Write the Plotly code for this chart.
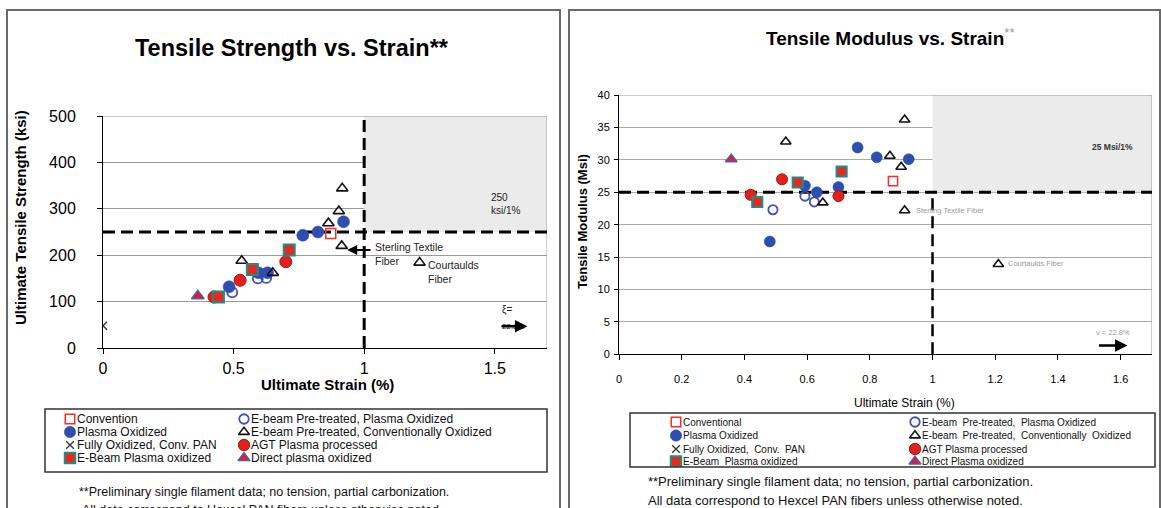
import plotly.graph_objects as go

W, H = 1161, 508
FONT = "Liberation Sans"

# ---------------- Tensile strength panel (ksi vs. % strain) ----------------
conv_strain_ts = [0.872]
conv_ts = [247]
ebpo_strain_ts = [0.495, 0.593, 0.625]
ebpo_ts = [120, 150, 151]
plasma_strain_ts = [0.483, 0.595, 0.630, 0.765, 0.823, 0.921]
plasma_ts = [132, 162, 162, 243, 250, 272]
ebconv_strain_ts = [0.531, 0.650, 0.863, 0.903, 0.916]
ebconv_ts = [188, 162, 269, 295, 344]
fully_strain_ts = [0.0]
fully_ts = [48]
agt_strain_ts = [0.425, 0.525, 0.700]
agt_ts = [110, 146, 186]
ebplasma_strain_ts = [0.442, 0.572, 0.713]
ebplasma_ts = [110, 169, 211]
direct_strain_ts = [0.363]
direct_ts = [112]
# commercial reference fibers: Sterling textile, Courtaulds
other_strain_ts = [0.914, 1.212]
other_ts = [220, 184]

# ---------------- Tensile modulus panel (Msi vs. % strain) ----------------
conv_strain_mod = [0.874]
conv_mod = [26.7]
ebpo_strain_mod = [0.491, 0.593, 0.623]
ebpo_mod = [22.3, 24.4, 23.5]
plasma_strain_mod = [0.481, 0.593, 0.631, 0.700, 0.761, 0.822, 0.924]
plasma_mod = [17.4, 26.0, 25.0, 25.8, 31.9, 30.4, 30.1]
ebconv_strain_mod = [0.532, 0.650, 0.864, 0.900, 0.911]
ebconv_mod = [32.8, 23.4, 30.6, 28.9, 36.2]
fully_strain_mod = []
fully_mod = []
agt_strain_mod = [0.420, 0.520, 0.700]
agt_mod = [24.6, 27.0, 24.4]
ebplasma_strain_mod = [0.441, 0.570, 0.710]
ebplasma_mod = [23.5, 26.5, 28.2]
direct_strain_mod = [0.358]
direct_mod = [30.1]
other_strain_mod = [0.911, 1.210]
other_mod = [22.2, 13.9]

# targets
strength_target = 250
modulus_target = 25
strain_target = 1.0
strain_max = 1.7
strength_max = 500
modulus_max = 40

# axis ticks
strength_ticks = [0, 100, 200, 300, 400, 500]
modulus_ticks = [0, 5, 10, 15, 20, 25, 30, 35, 40]
strain_ticks_ts = [0, 0.5, 1, 1.5]
strain_labels_ts = ["0", "0.5", "1", "1.5"]
strain_ticks_mod = [0, 0.2, 0.4, 0.6, 0.8, 1.0, 1.2, 1.4, 1.6]
strain_labels_mod = ["0", "0.2", "0.4", "0.6", "0.8", "1", "1.2", "1.4", "1.6"]

# legend labels (two columns, four rows each)
series_keys = ["conv", "plasma", "fully", "ebplasma", "ebpo", "ebconv", "agt", "direct"]
legend_names_ts = ["Convention", "Plasma Oxidized", "Fully Oxidized, Conv. PAN",
                   "E-Beam Plasma oxidized", "E-beam Pre-treated, Plasma Oxidized",
                   "E-beam Pre-treated, Conventionally Oxidized",
                   "AGT Plasma processed", "Direct plasma oxidized"]
legend_names_mod = ["Conventional", "Plasma Oxidized", "Fully Oxidized,  Conv.  PAN",
                    "E-Beam  Plasma oxidized", "E-beam  Pre-treated,  Plasma Oxidized",
                    "E-beam  Pre-treated,  Conventionally  Oxidized",
                    "AGT Plasma processed", "Direct Plasma oxidized"]


def marker_style(key, scale=1.0):
    s = {
        "conv": dict(symbol="square-open", size=10, color="#ff2a2a",
                     line=dict(width=1.5, color="#ff2a2a")),
        "ebpo": dict(symbol="circle-open", size=10, color="#4152b4",
                     line=dict(width=1.8, color="#4152b4")),
        "plasma": dict(symbol="circle", size=12, color="#2f4fb0",
                       line=dict(width=0.5, color="#27439a")),
        "ebconv": dict(symbol="triangle-up-open", size=10, color="#111111",
                       line=dict(width=1.6, color="#111111")),
        "fully": dict(symbol="x-thin-open", size=8, color="#333333",
                      line=dict(width=1.3, color="#333333")),
        "agt": dict(symbol="circle", size=12, color="#e3201b",
                    line=dict(width=1, color="#a81410")),
        "ebplasma": dict(symbol="square", size=11, color="#e8281e",
                         line=dict(width=2, color="#1e8c88")),
        "direct": dict(symbol="triangle-up", size=11, color="#e3201b",
                       line=dict(width=1.5, color="#4a5cc0")),
    }[key]
    s = dict(s)
    s["size"] = s["size"] * scale
    return s


data_ts = {
    "conv": (conv_strain_ts, conv_ts),
    "ebpo": (ebpo_strain_ts, ebpo_ts),
    "plasma": (plasma_strain_ts, plasma_ts),
    "ebconv": (ebconv_strain_ts, ebconv_ts),
    "fully": (fully_strain_ts, fully_ts),
    "agt": (agt_strain_ts, agt_ts),
    "ebplasma": (ebplasma_strain_ts, ebplasma_ts),
    "direct": (direct_strain_ts, direct_ts),
}
data_mod = {
    "conv": (conv_strain_mod, conv_mod),
    "ebpo": (ebpo_strain_mod, ebpo_mod),
    "plasma": (plasma_strain_mod, plasma_mod),
    "ebconv": (ebconv_strain_mod, ebconv_mod),
    "fully": (fully_strain_mod, fully_mod),
    "agt": (agt_strain_mod, agt_mod),
    "ebplasma": (ebplasma_strain_mod, ebplasma_mod),
    "direct": (direct_strain_mod, direct_mod),
}
draw_order = ["conv", "ebpo", "plasma", "ebconv", "fully", "agt", "ebplasma", "direct"]


def px(x):
    return x / W


def py(y):
    return 1 - y / H


fig = go.Figure()

# data traces
for key in draw_order:
    xs, ys = data_ts[key]
    fig.add_trace(go.Scatter(x=xs, y=ys, mode="markers", marker=marker_style(key),
                             xaxis="x", yaxis="y", showlegend=False, hoverinfo="x+y"))
fig.add_trace(go.Scatter(x=other_strain_ts, y=other_ts, mode="markers",
                         marker=marker_style("ebconv"), xaxis="x", yaxis="y",
                         showlegend=False))
for key in draw_order:
    xs, ys = data_mod[key]
    fig.add_trace(go.Scatter(x=xs, y=ys, mode="markers", marker=marker_style(key, 0.92),
                             xaxis="x2", yaxis="y2", showlegend=False, hoverinfo="x+y"))
fig.add_trace(go.Scatter(x=other_strain_mod, y=other_mod, mode="markers",
                         marker=marker_style("ebconv", 0.92), xaxis="x2", yaxis="y2",
                         showlegend=False))

# legend swatches drawn on their own pixel-scaled axes
legend_ts_box = (45, 547, 409, 472)
legend_mod_box = (630, 1155, 413, 467)
legend_ts_cols = (70, 244)
legend_mod_cols = (676, 915)
legend_ts_rows = [419, 432, 445, 458]
legend_mod_rows = [422, 435.5, 449, 461.5]

annotations = []
for (box, cols, rows, names, xa, ya, scale, fsize) in [
    (legend_ts_box, legend_ts_cols, legend_ts_rows, legend_names_ts, "x3", "y3", 0.95, 12),
    (legend_mod_box, legend_mod_cols, legend_mod_rows, legend_names_mod, "x4", "y4", 0.95, 10),
]:
    for i, key in enumerate(series_keys):
        cx = cols[i // 4]
        cy = rows[i % 4]
        fig.add_trace(go.Scatter(x=[cx], y=[cy], mode="markers",
                                 marker=marker_style(key, scale), xaxis=xa, yaxis=ya,
                                 showlegend=False, hoverinfo="skip"))
        annotations.append(dict(x=cx + 5, y=cy, xref=xa, yref=ya, text=names[i],
                                showarrow=False, xanchor="left", yanchor="middle",
                                font=dict(family=FONT, size=fsize, color="#111")))

axis_common = dict(showline=True, linecolor="black", linewidth=1, ticks="outside",
                   tickcolor="black", ticklen=5, zeroline=False, automargin=False)

fig.update_layout(
    width=W, height=H, margin=dict(l=0, r=0, t=0, b=0, autoexpand=False),
    paper_bgcolor="white", plot_bgcolor="white", showlegend=False,
    xaxis=dict(domain=[px(103), px(547)], range=[0, strain_max], tickvals=strain_ticks_ts,
               ticktext=strain_labels_ts, showgrid=False, anchor="y", ticklabelstandoff=1,
               tickfont=dict(family=FONT, size=16, color="black"), **axis_common),
    yaxis=dict(domain=[py(348), py(116)], range=[0, strength_max], tickvals=strength_ticks,
               showgrid=True, gridcolor="#9a9a9a", gridwidth=1, anchor="x",
               ticklabelstandoff=18,
               tickfont=dict(family=FONT, size=16, color="black"), **axis_common),
    xaxis2=dict(domain=[px(619), px(1152)], range=[0, strain_max], tickvals=strain_ticks_mod,
                ticktext=strain_labels_mod, showgrid=False, anchor="y2", ticklabelstandoff=9,
                tickfont=dict(family=FONT, size=11, color="black"), **axis_common),
    yaxis2=dict(domain=[py(354.3), py(95)], range=[0, modulus_max], tickvals=modulus_ticks,
                showgrid=True, gridcolor="#aaaaaa", gridwidth=1, anchor="x2",
                ticklabelstandoff=2,
                tickfont=dict(family=FONT, size=11, color="black"),
                **{**axis_common, "ticklen": 4}),
    xaxis3=dict(domain=[px(legend_ts_box[0]), px(legend_ts_box[1])],
                range=[legend_ts_box[0], legend_ts_box[1]], visible=False, anchor="y3"),
    yaxis3=dict(domain=[py(legend_ts_box[3]), py(legend_ts_box[2])],
                range=[legend_ts_box[3], legend_ts_box[2]], visible=False, anchor="x3"),
    xaxis4=dict(domain=[px(legend_mod_box[0]), px(legend_mod_box[1])],
                range=[legend_mod_box[0], legend_mod_box[1]], visible=False, anchor="y4"),
    yaxis4=dict(domain=[py(legend_mod_box[3]), py(legend_mod_box[2])],
                range=[legend_mod_box[3], legend_mod_box[2]], visible=False, anchor="x4"),
)

dash = "12px,6px"
shapes = [
    # panel frames
    dict(type="rect", xref="paper", yref="paper", x0=px(7), x1=px(560), y0=py(520), y1=py(10),
         line=dict(color="#6a6a6a", width=2), layer="below"),
    dict(type="rect", xref="paper", yref="paper", x0=px(569), x1=px(1160), y0=py(520), y1=py(10),
         line=dict(color="#6a6a6a", width=2), layer="below"),
    # target zones
    dict(type="rect", xref="x", yref="y", x0=strain_target, x1=strain_max,
         y0=strength_target, y1=strength_max, fillcolor="#ebebeb", line=dict(width=0),
         layer="between"),
    dict(type="rect", xref="x2", yref="y2", x0=strain_target, x1=strain_max,
         y0=modulus_target, y1=modulus_max, fillcolor="#ebebeb", line=dict(width=0),
         layer="between"),
    # plot-area borders (top / right)
    dict(type="line", xref="x", yref="y", x0=0, x1=strain_max, y0=strength_max,
         y1=strength_max, line=dict(color="#9a9a9a", width=1), layer="between"),
    dict(type="line", xref="x", yref="y", x0=strain_max, x1=strain_max, y0=0,
         y1=strength_max, line=dict(color="#9a9a9a", width=1), layer="between"),
    dict(type="line", xref="x2", yref="y2", x0=0, x1=strain_max, y0=modulus_max,
         y1=modulus_max, line=dict(color="#9a9a9a", width=1), layer="between"),
    dict(type="line", xref="x2", yref="y2", x0=strain_max, x1=strain_max, y0=0,
         y1=modulus_max, line=dict(color="#9a9a9a", width=1), layer="between"),
    # target lines
    dict(type="line", xref="x", yref="y", x0=0, x1=strain_max, y0=strength_target,
         y1=strength_target, line=dict(color="black", width=3, dash=dash), layer="between"),
    dict(type="line", xref="x", yref="y", x0=strain_target, x1=strain_target, y0=0,
         y1=strength_max, line=dict(color="black", width=3, dash=dash), layer="between"),
    dict(type="line", xref="x2", yref="y2", x0=0, x1=strain_max, y0=modulus_target,
         y1=modulus_target, line=dict(color="black", width=3, dash=dash), layer="between"),
    dict(type="line", xref="x2", yref="y2", x0=strain_target, x1=strain_target, y0=0,
         y1=modulus_target, line=dict(color="black", width=2.5, dash=dash), layer="between"),
    # legend boxes
    dict(type="rect", xref="paper", yref="paper", x0=px(legend_ts_box[0]), x1=px(legend_ts_box[1]),
         y0=py(legend_ts_box[3]), y1=py(legend_ts_box[2]), line=dict(color="#333", width=1.5)),
    dict(type="rect", xref="paper", yref="paper", x0=px(legend_mod_box[0]), x1=px(legend_mod_box[1]),
         y0=py(legend_mod_box[3]), y1=py(legend_mod_box[2]), line=dict(color="#333", width=1.5)),
]

c = dict(xanchor="center", yanchor="middle", showarrow=False)
lft = dict(xanchor="left", yanchor="middle", showarrow=False)
annotations += [
    # titles
    dict(x=px(292), y=py(48), xref="paper", yref="paper",
         text="<b>Tensile Strength vs. Strain**</b>",
         font=dict(family=FONT, size=23.5, color="black"), **c),
    dict(x=px(890), y=py(37), xref="paper", yref="paper",
         text="<b>Tensile Modulus vs. Strain</b><sup><span style='color:#999'>**</span></sup>",
         font=dict(family=FONT, size=19, color="black"), **c),
    # axis titles
    dict(x=px(20), y=py(218), xref="paper", yref="paper", textangle=-90,
         text="<b>Ultimate Tensile Strength (ksi)</b>",
         font=dict(family=FONT, size=15, color="black"), **c),
    dict(x=px(327), y=py(384), xref="paper", yref="paper", text="<b>Ultimate Strain (%)</b>",
         font=dict(family=FONT, size=15, color="black"), **c),
    dict(x=px(582), y=py(222), xref="paper", yref="paper", textangle=-90,
         text="<b>Tensile Modulus (Msi)</b>",
         font=dict(family=FONT, size=13, color="black"), **c),
    dict(x=px(904), y=py(403), xref="paper", yref="paper", text="Ultimate Strain (%)",
         font=dict(family=FONT, size=12, color="black"), **c),
    # strength panel notes
    dict(x=1.034, y=203, xref="x", yref="y", align="left",
         text="Sterling Textile<br>Fiber", font=dict(family=FONT, size=10.5, color="#222"), **lft),
    dict(x=0.935, y=211, xref="x", yref="y", ax=1.03, ay=211, axref="x", ayref="y",
         text="", showarrow=True, arrowhead=2, arrowsize=1, arrowwidth=2, arrowcolor="black"),
    dict(x=1.235, y=164, xref="x", yref="y", align="left",
         text="Courtaulds<br>Fiber", font=dict(family=FONT, size=10.5, color="#222"), **lft),
    dict(x=1.479, y=310, xref="x", yref="y", align="left",
         text="250<br>ksi/1%", font=dict(family=FONT, size=10, color="#222"), **lft),
    dict(x=1.52, y=81, xref="x", yref="y", text="ξ=",
         font=dict(family=FONT, size=10, color="#222"), **lft),
    dict(x=1.52, y=47, xref="x", yref="y", text="22.8%",
         font=dict(family=FONT, size=8, color="#222"), **lft),
    dict(x=1.625, y=47, xref="x", yref="y", ax=1.52, ay=47, axref="x", ayref="y",
         text="", showarrow=True, arrowhead=2, arrowsize=1, arrowwidth=2.5, arrowcolor="black"),
    # modulus panel notes
    dict(x=0.942, y=22.2, xref="x2", yref="y2", text="Sterling Textile Fiber",
         font=dict(family=FONT, size=7.5, color="#999"), **lft),
    dict(x=1.234, y=14.0, xref="x2", yref="y2", text="Courtaulds Fiber",
         font=dict(family=FONT, size=7.5, color="#999"), **lft),
    dict(x=1.503, y=32.0, xref="x2", yref="y2", text="<b>25 Msi/1%</b>",
         font=dict(family=FONT, size=8.5, color="#333"), **lft),
    dict(x=1.574, y=3.4, xref="x2", yref="y2", text="v = 22.8%",
         font=dict(family=FONT, size=7.5, color="#999"), **c),
    dict(x=1.622, y=1.35, xref="x2", yref="y2", ax=1.526, ay=1.35, axref="x2", ayref="y2",
         text="", showarrow=True, arrowhead=2, arrowsize=1, arrowwidth=2.5, arrowcolor="black"),
    # footnotes
    dict(x=px(77), y=py(492), xref="paper", yref="paper",
         text="**Preliminary single filament data; no tension, partial carbonization.",
         font=dict(family=FONT, size=12.5, color="#111"), **lft),
    dict(x=px(80), y=py(510), xref="paper", yref="paper",
         text="All data correspond to Hexcel PAN fibers unless otherwise noted.",
         font=dict(family=FONT, size=12.5, color="#111"), **lft),
    dict(x=px(646), y=py(481), xref="paper", yref="paper",
         text="**Preliminary single filament data; no tension, partial carbonization.",
         font=dict(family=FONT, size=13, color="#111"), **lft),
    dict(x=px(646), y=py(500), xref="paper", yref="paper",
         text="All data correspond to Hexcel PAN fibers unless otherwise noted.",
         font=dict(family=FONT, size=13, color="#111"), **lft),
]

fig.update_layout(shapes=shapes, annotations=annotations)
fig.write_html("out.html")
